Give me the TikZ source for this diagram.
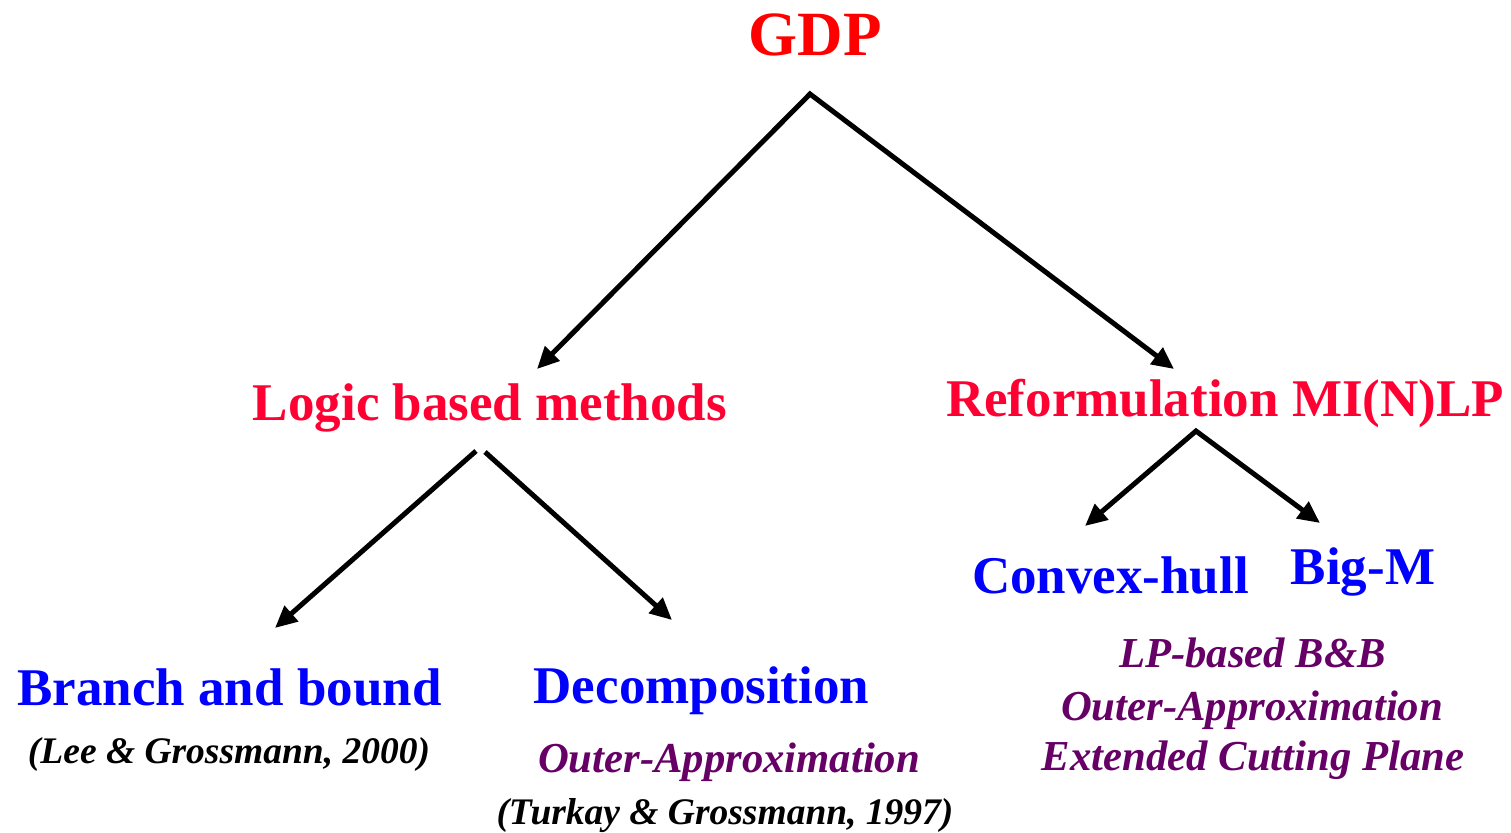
\documentclass[tikz,border=0pt]{standalone}
\usepackage{fontspec}
\setmainfont{Liberation Serif}
\usetikzlibrary{arrows.meta}
\definecolor{gdpred}{HTML}{FF0000}
\definecolor{catred}{HTML}{FF0033}
\definecolor{methblue}{HTML}{0000FF}
\definecolor{subpurple}{HTML}{660066}
\tikzset{
  txt/.style={inner sep=0pt, anchor=base},
  top/.style={txt, text=gdpred, font=\fontsize{31.5}{36}\selectfont\bfseries},
  cat/.style={txt, text=catred, font=\fontsize{26.5}{30}\selectfont\bfseries},
  meth/.style={txt, text=methblue, font=\fontsize{26.5}{30}\selectfont\bfseries},
  sub/.style={txt, text=subpurple, font=\fontsize{21.35}{24}\selectfont\bfseries\itshape},
  ref/.style={txt, text=black, font=\fontsize{18.75}{22}\selectfont\bfseries\itshape},
  tip/.style={Triangle[length=11pt,width=10pt]},
  arr/.style={line width=2.5pt, -{Triangle[length=11pt,width=10pt]}},
  arr2/.style={line width=2.5pt, line join=miter, {Triangle[length=11pt,width=10pt]}-{Triangle[length=11pt,width=10pt]}}
}
\begin{document}
\begin{tikzpicture}[x=0.5pt,y=-0.5pt]
\useasboundingbox (0,0) rectangle (1511,832);
\node[top] (gdp) at (815,55) {GDP};
\node[cat] (logic) at (490,420) {Logic based methods};
\node[cat] (reform) at (1225,416) {Reformulation MI(N)LP};
\node[meth] (bb) at (229.5,705) {Branch and bound};
\node[ref] (lee) at (229,763) {(Lee \& Grossmann, 2000)};
\node[meth] (dec) at (701.5,703) {Decomposition};
\node[sub] (oa1) at (729,772) {Outer-Approximation};
\node[ref] (turkay) at (725,824) {(Turkay \& Grossmann, 1997)};
\node[meth] (ch) at (1110.5,593) {Convex-hull};
\node[meth] (bigm) at (1363,584) {Big-M};
\node[sub] (lpbb) at (1252.5,667) {LP-based B\&B};
\node[sub] (oa2) at (1252,720) {Outer-Approximation};
\node[sub] (ecp) at (1253,770) {Extended Cutting Plane};
\coordinate (gdpapex) at (810,94);
\coordinate (logictip) at (537,369);
\coordinate (reformtip) at (1174,369);
\coordinate (logicL) at (476,451);
\coordinate (logicR) at (485,452);
\coordinate (bbtip) at (275,628);
\coordinate (dectip) at (672,620);
\coordinate (reformapex) at (1196,431);
\coordinate (chtip) at (1085,526);
\coordinate (bigmtip) at (1320,523);
\draw[arr2] (logictip) -- (gdpapex) -- (reformtip);
\draw[arr] (logicL) -- (bbtip);
\draw[arr] (logicR) -- (dectip);
\draw[arr2] (chtip) -- (reformapex) -- (bigmtip);
\end{tikzpicture}
\end{document}
